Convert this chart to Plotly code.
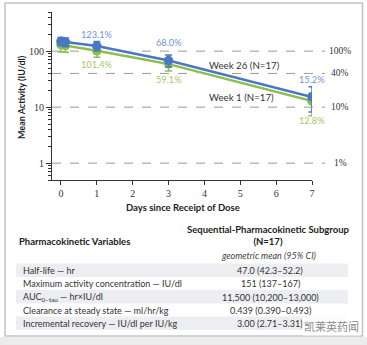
import numpy as np
import plotly.graph_objects as go

# ---- data ----
days = [0, 0.125, 1, 3, 7]
week26 = [150, 145, 123.1, 68.0, 15.2]
week26_up = [26, 26, 26, 17, 8]
week26_dn = [25, 25, 23, 16, 7]
week1 = [130, 126, 101.4, 59.1, 12.8]
week1_up = [20, 20, 19, 11, 5]
week1_dn = [33, 30, 24, 15, 5.8]
label_days = [1, 3, 7]
week26_labels = ["123.1%", "68.0%", "15.2%"]
week1_labels = ["101.4%", "59.1%", "12.8%"]
ref_levels = [100, 40, 10, 1]
ref_labels = ["100%", "40%", "10%", "1%"]
x_ticks = [0, 1, 2, 3, 4, 5, 6, 7]
y_ticks = [1, 10, 100]
y_minor = [0.5, 0.6, 0.7, 0.8, 0.9, 2, 3, 4, 5, 6, 7, 8, 9,
           20, 30, 40, 50, 60, 70, 80, 90, 200, 300, 400, 500]
pk_vars = ["Half-life — hr",
           "Maximum activity concentration — IU/dl",
           "AUC<sub>0–tau</sub> — hr×IU/dl",
           "Clearance at steady state — ml/hr/kg",
           "Incremental recovery — IU/dl per IU/kg"]
pk_vals = ["47.0 (42.3–52.2)", "151 (137–167)", "11,500 (10,200–13,000)",
           "0.439 (0.390–0.493)", "3.00 (2.71–3.31)"]

BLUE = "#4a77c2"
GREEN = "#8cbf4f"
BLUE_T = "#6f93d8"
GREEN_T = "#a3c766"
SANS = "Lato"
SERIF = "Liberation Serif"

W, H = 367, 345
L, R, T, B = 52, 312, 12, 180


def px(x):
    return (x - L) / (R - L)


def py(y):
    return (B - y) / (B - T)


def ann(x, y, text, size, color, family=SANS, xanchor="center", **kw):
    d = dict(xref="paper", yref="paper", x=px(x), y=py(y), text=text, showarrow=False,
             xanchor=xanchor, yanchor="middle",
             font=dict(family=family, size=size, color=color))
    d.update(kw)
    return d


fig = go.Figure()

for ys, up, dn, col in [(week1, week1_up, week1_dn, GREEN), (week26, week26_up, week26_dn, BLUE)]:
    fig.add_trace(go.Scatter(x=days, y=ys, mode="lines",
                             line=dict(color="white", width=4.5),
                             showlegend=False, hoverinfo="skip"))
    fig.add_trace(go.Scatter(
        x=days, y=ys, mode="lines+markers",
        line=dict(color=col, width=2.5),
        marker=dict(color=col, size=9.5),
        error_y=dict(type="data", symmetric=False, array=up, arrayminus=dn,
                     color=col, thickness=1.5, width=3.5),
        showlegend=False))

shapes = []
annotations = []

# reference dashed lines
for lv, lab in zip(ref_levels, ref_labels):
    shapes.append(dict(type="line", xref="paper", yref="y", x0=0, x1=px(325),
                       y0=lv, y1=lv, line=dict(color="#9a9a9a", width=1, dash="dash"),
                       layer="below"))
    annotations.append(dict(xref="paper", yref="y", x=px(340), y=np.log10(lv), text=lab,
                            showarrow=False, xanchor="center", yanchor="middle",
                            font=dict(family=SERIF, size=9.5, color="#333333")))

# percentage labels
shift26 = [12, 18, 17]
shift1 = [-14, -16, -19]
for d, t, s in zip(label_days, week26_labels, shift26):
    yv = week26[days.index(d)]
    annotations.append(dict(x=d, y=np.log10(yv), text=t, showarrow=False, yshift=s,
                            xanchor="center", yanchor="middle",
                            font=dict(family=SANS, size=9.2, color=BLUE_T)))
for d, t, s in zip(label_days, week1_labels, shift1):
    yv = week1[days.index(d)]
    annotations.append(dict(x=d, y=np.log10(yv), text=t, showarrow=False, yshift=s,
                            xanchor="center", yanchor="middle",
                            font=dict(family=SANS, size=9.2, color=GREEN_T)))

annotations.append(ann(244, 65, "Week 26 (N=17)", 9.7, "#333333"))
annotations.append(ann(241, 97, "Week 1 (N=17)", 9.7, "#333333"))

# axis titles
annotations.append(ann(183, 207, "<b>Days since Receipt of Dose</b>", 9.5, "#222222"))
annotations.append(ann(21, 97, "<b>Mean Activity (IU/dl)</b>", 9, "#222222", textangle=-90))

# table
annotations.append(ann(17, 241, "<b>Pharmacokinetic Variables</b>", 9.5, "#222222",
                       xanchor="left"))
annotations.append(ann(268, 235, "<b>Sequential-Pharmacokinetic Subgroup<br>(N=17)</b>",
                       9.5, "#222222"))
annotations.append(ann(268, 255, "<i>geometric mean (95% CI)</i>", 9, "#444444"))

row_y = [270.5, 283.5, 297, 310.5, 323.5]
for i, (v, val, ry) in enumerate(zip(pk_vars, pk_vals, row_y)):
    if i % 2 == 0:
        shapes.append(dict(type="rect", xref="paper", yref="paper", x0=px(16), x1=px(348),
                           y0=py(ry + 6.5), y1=py(ry - 7), fillcolor="#eceef2",
                           line=dict(width=0), layer="below"))
    annotations.append(ann(21, ry, v, 9, "#333333", xanchor="left"))
    annotations.append(ann(270, ry, val, 9, "#333333"))

# watermark
annotations.append(ann(331, 326, "凯莱英药闻", 11, "#8a8a8a", family="Noto Sans CJK SC",
                       bgcolor="rgba(255,255,255,0.85)"))

# frame
shapes.append(dict(type="rect", xref="paper", yref="paper", x0=px(5), x1=px(362.5),
                   y0=py(336), y1=py(3), line=dict(color="#c4c4c4", width=1.5),
                   layer="below"))
shapes.append(dict(type="rect", xref="paper", yref="paper", x0=px(0), x1=px(367),
                   y0=py(345), y1=py(337), fillcolor="#ececec", line=dict(width=0),
                   layer="below"))

fig.update_layout(
    width=W, height=H, autosize=False,
    margin=dict(l=L, r=W - R, t=T, b=H - B, pad=0),
    paper_bgcolor="white", plot_bgcolor="white",
    shapes=shapes, annotations=annotations,
    xaxis=dict(range=[-0.25, 7], tickvals=x_ticks, ticks="outside", ticklen=4,
               tickcolor="#333333", showline=True, linecolor="#333333", linewidth=1,
               showgrid=False, zeroline=False,
               tickfont=dict(family=SERIF, size=10, color="#333333")),
    yaxis=dict(type="log", range=[np.log10(0.5), np.log10(500)], tickvals=y_ticks,
               ticktext=["1", "10", "100"], ticks="outside", ticklen=5,
               tickcolor="#333333", showline=True, linecolor="#333333", linewidth=1,
               showgrid=False, zeroline=False,
               tickfont=dict(family=SERIF, size=10, color="#333333"),
               minor=dict(tickvals=y_minor, ticks="outside", ticklen=3,
                          tickcolor="#333333", showgrid=False)),
)

fig.write_html("out.html")
